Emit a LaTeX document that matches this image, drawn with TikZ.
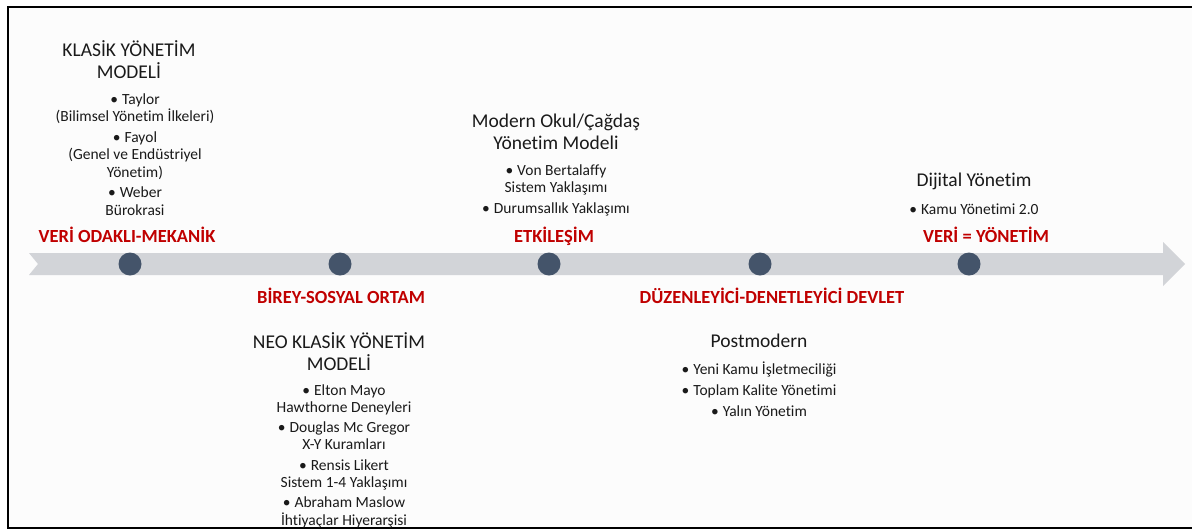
\documentclass[tikz,border=0pt]{standalone}
\usepackage{fontspec}
\setmainfont[Ligatures=NoCommon]{Carlito}
\definecolor{band}{HTML}{D2D4D8}
\definecolor{dot}{HTML}{44546A}
\definecolor{era}{HTML}{C00000}
\definecolor{ink}{HTML}{1A1A1A}
\begin{document}
\begin{tikzpicture}[x=1pt,y=-1pt,
  heading/.style={font=\fontsize{19.5}{22}\selectfont, align=center, text=ink, inner sep=0pt},
  items/.style={font=\fontsize{15.5}{17.3}\selectfont, align=center, text=ink, inner sep=0pt},
  eralabel/.style={font=\bfseries\fontsize{18.5}{20}\selectfont, text=era, inner sep=0pt},
  milestone/.style={circle, fill=dot, minimum size=23pt, inner sep=0pt}]
\useasboundingbox (0,0) rectangle (1192,531);
% frame
\fill[white] (0,0) rectangle (1192,531);
\fill[gray!2] (8,7) rectangle (1192,528);
\draw[line width=2pt, black] (1192,7) -- (8,7) -- (8,528) -- (1192,528);

% timeline band
\fill[band] (29,253) -- (1163,253) -- (1163,242) -- (1185,264) -- (1163,286)
  -- (1163,275) -- (29,275) -- (38,264) -- cycle;

% milestones
\node[milestone] (m1) at (130,264) {};
\node[milestone] (m2) at (340,264) {};
\node[milestone] (m3) at (549,264) {};
\node[milestone] (m4) at (760,264) {};
\node[milestone] (m5) at (969,264) {};

% classical model
\node[heading] (klasik) at (129,60) {KLASİK YÖNETİM\\MODELİ};
\node[items] (klasikList) at (135,154.5) {\textbullet\hspace{4pt}Taylor\\(Bilimsel Yönetim İlkeleri)\\[3.5pt]
  \textbullet\hspace{4pt}Fayol\\(Genel ve Endüstriyel\\Yönetim)\\[3.5pt]
  \textbullet\hspace{4pt}Weber\\Bürokrasi};
\node[eralabel] (e1) at (127,235) {VERİ ODAKLI-MEKANİK};

% neo-classical model
\node[eralabel] (e2) at (341,296) {BİREY-SOSYAL ORTAM};
\node[heading] (neo) at (339,352) {NEO KLASİK YÖNETİM\\MODELİ};
\node[items] (neoList) at (344,456) {\textbullet\hspace{4pt}Elton Mayo\\Hawthorne Deneyleri\\[3pt]
  \textbullet\hspace{4pt}Douglas Mc Gregor\\X-Y Kuramları\\[3pt]
  \textbullet\hspace{4pt}Rensis Likert\\Sistem 1-4 Yaklaşımı\\[3pt]
  \textbullet\hspace{4pt}Abraham Maslow\\İhtiyaçlar Hiyerarşisi};

% modern model
\node[heading] (modern) at (556,132) {Modern Okul/Çağdaş\\Yönetim Modeli};
\node[items] (modernList) at (556,190) {\textbullet\hspace{4pt}Von Bertalaffy\\Sistem Yaklaşımı\\[3.5pt]
  \textbullet\hspace{4pt}Durumsallık Yaklaşımı};
\node[eralabel] (e3) at (554,236) {ETKİLEŞİM};

% postmodern
\node[eralabel] (e4) at (772,296) {DÜZENLEYİCİ-DENETLEYİCİ DEVLET};
\node[heading] (post) at (759,341) {Postmodern};
\node[items] (postList) at (759,389.5) {\textbullet\hspace{4pt}Yeni Kamu İşletmeciliği\\[3.5pt]
  \textbullet\hspace{4pt}Toplam Kalite Yönetimi\\[3.5pt]
  \textbullet\hspace{4pt}Yalın Yönetim};

% digital
\node[heading] (dijital) at (974,181) {Dijital Yönetim};
\node[items] (dijitalList) at (974,209) {\textbullet\hspace{4pt}Kamu Yönetimi 2.0};
\node[eralabel] (e5) at (986,235) {VERİ = YÖNETİM};
\end{tikzpicture}
\end{document}
